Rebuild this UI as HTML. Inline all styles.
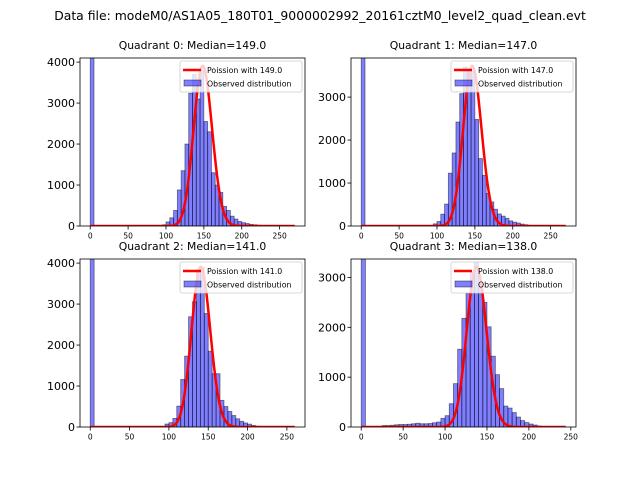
<!DOCTYPE html>
<html><head><meta charset="utf-8">
<style>
body{margin:0;background:#fff;}
svg{display:block;font-family:"DejaVu Sans","Liberation Sans",sans-serif;}
</style></head>
<body>
<svg id="fig" width="640" height="480" viewBox="0 0 640 480" xmlns="http://www.w3.org/2000/svg">
<rect width="640" height="480" fill="#fff"/>
<text x="320" y="20" font-size="12.4" text-anchor="middle">Data file: modeM0/AS1A05_180T01_9000002992_20161cztM0_level2_quad_clean.evt</text>
</svg>
<script>
// bin starts (width 5); bin 0 (0-5) is very tall
const binWidth = 5;
const q0Bins = [0,95,100,105,110,115,120,125,130,135,140,145,150,155,160,165,170,175,180,185,190,195,200,205,210,215,220];
const q0Counts = [10000,30,100,200,380,880,1350,2000,3240,3700,3100,3800,2550,2300,1300,1000,820,480,380,240,170,110,80,60,40,30,20];
const q1Bins = [0,95,100,105,110,115,120,125,130,135,140,145,150,155,160,165,170,175,180,185,190,195,200,205,210,215,220];
const q1Counts = [10000,50,105,275,510,1230,1700,2420,3080,3700,3650,3600,2480,1570,1180,760,560,390,280,230,180,120,90,70,45,30,15];
const q2Bins = [0,95,100,105,110,115,120,125,130,135,140,145,150,155,160,165,170,175,180,185,190,195,200,205,210];
const q2Counts = [10000,73,106,210,510,1160,1730,2690,3060,3840,3900,2770,1850,1300,1300,650,500,380,280,200,140,100,70,40,20];
const q3Bins = [0,25,30,35,40,45,50,55,60,65,70,75,80,85,90,95,100,105,110,115,120,125,130,135,140,145,150,155,160,165,170,175,180,185,190,195,200,205,210];
const q3Counts = [10000,30,30,35,45,50,50,55,65,75,65,65,70,85,100,174,227,467,870,1560,2180,2680,3100,3300,2800,2500,2010,1420,1050,770,420,380,290,200,130,90,60,40,20];
const medians = [149.0,147.0,141.0,138.0];
const poissonPeaks = [3905,3725,3905,3210];
const poissonMax = [270,270,260,244];
const yMax = [4100,3910,4100,3370];
const yTicks = [[0,1000,2000,3000,4000],[0,1000,2000,3000],[0,1000,2000,3000,4000],[0,1000,2000,3000]];
const xTicks = [0,50,100,150,200,250];

const NS="http://www.w3.org/2000/svg";
const svg=document.getElementById('fig');
function mk(tag,attrs,parent){const e=document.createElementNS(NS,tag);for(const k in attrs)e.setAttribute(k,attrs[k]);(parent||svg).appendChild(e);return e;}

const boxes=[{x:80,y:58},{x:351,y:58},{x:80,y:259},{x:351,y:259}];
const W=225,H=168;
const allBins=[q0Bins,q1Bins,q2Bins,q3Bins];
const allCounts=[q0Counts,q1Counts,q2Counts,q3Counts];

for(let q=0;q<4;q++){
  const b=boxes[q];
  const xmaxData=poissonMax[q];
  const pad=xmaxData*0.05;
  const x0=-pad,x1=xmaxData+pad;
  const X=v=>b.x+(v-x0)/(x1-x0)*W;
  const Y=v=>b.y+H-v/yMax[q]*H;
  const g=mk('g',{});
  
  
  const cp=mk('clipPath',{id:'c'+q},g);
  mk('rect',{x:b.x,y:b.y,width:W,height:H},cp);
  const t=mk('text',{x:b.x+W/2,y:b.y-9,'font-size':10.8,'text-anchor':'middle'},g);
  t.textContent='Quadrant '+q+': Median='+medians[q].toFixed(1);
  
  
  const bars=mk('g',{'clip-path':'url(#c'+q+')'},g);
  const bins=allBins[q],counts=allCounts[q];
  for(let i=0;i<bins.length;i++){
    const r=mk('rect',{x:X(bins[i]),y:Y(counts[i]),width:X(bins[i]+binWidth)-X(bins[i]),height:Y(0)-Y(counts[i]),fill:'rgba(0,0,255,0.5)',stroke:'rgba(0,0,0,0.5)','stroke-width':0.8},bars);
    
    
  }
  // poisson curve
  const lam=medians[q];
  const vals={};const L=Math.round(lam);
  vals[L]=1;
  for(let k=L;k<xmaxData;k++)vals[k+1]=vals[k]*lam/(k+1);
  for(let k=L;k>0;k--)vals[k-1]=vals[k]*k/lam;
  let d='';
  for(let k=0;k<=xmaxData;k++)d+=(k?'L':'M')+X(k).toFixed(2)+' '+Y(vals[k]*poissonPeaks[q]).toFixed(2);
  const pl=mk('path',{d:d,fill:'none',stroke:'red','stroke-width':2.5,'clip-path':'url(#c'+q+')'},g);
  
  
  mk('rect',{x:b.x,y:b.y,width:W,height:H,fill:'none',stroke:'#000','stroke-width':0.8},g);
  // ticks
  for(const v of yTicks[q]){
    const y=Y(v);
    mk('line',{x1:b.x-3.5,x2:b.x,y1:y,y2:y,stroke:'#000','stroke-width':0.8},g);
    const tt=mk('text',{x:b.x-5,y:y+4,'font-size':11,'text-anchor':'end'},g);
    tt.textContent=v;
    
    
  }
  for(const v of xTicks){
    const x=X(v); if(x>b.x+W+0.5)continue;
    mk('line',{x1:x,x2:x,y1:b.y+H,y2:b.y+H+3.5,stroke:'#000','stroke-width':0.8},g);
    const tt=mk('text',{x:x,y:b.y+H+12.5,'font-size':7.5,'text-anchor':'middle'},g);
    tt.textContent=v;
    
    
  }
  // legend
  const lx=b.x+W-125,ly=b.y+3;
  const lg=mk('g',{},g);
  
  
  mk('rect',{x:lx,y:ly,width:122,height:31,rx:2,fill:'rgba(255,255,255,0.8)',stroke:'#ccc','stroke-width':0.8},lg);
  mk('line',{x1:lx+3,x2:lx+21,y1:ly+9,y2:ly+9,stroke:'red','stroke-width':2.5},lg);
  const t1=mk('text',{x:lx+27,y:ly+12,'font-size':7.8},lg);
  t1.textContent='Poission with '+medians[q].toFixed(1);
  
  
  mk('rect',{x:lx+4,y:ly+19,width:17,height:6,fill:'rgba(0,0,255,0.5)',stroke:'rgba(0,0,0,0.5)','stroke-width':0.8},lg);
  const t2=mk('text',{x:lx+27,y:ly+25.5,'font-size':7.8},lg);
  t2.textContent='Observed distribution';
  
  
}
</script>
</body></html>
